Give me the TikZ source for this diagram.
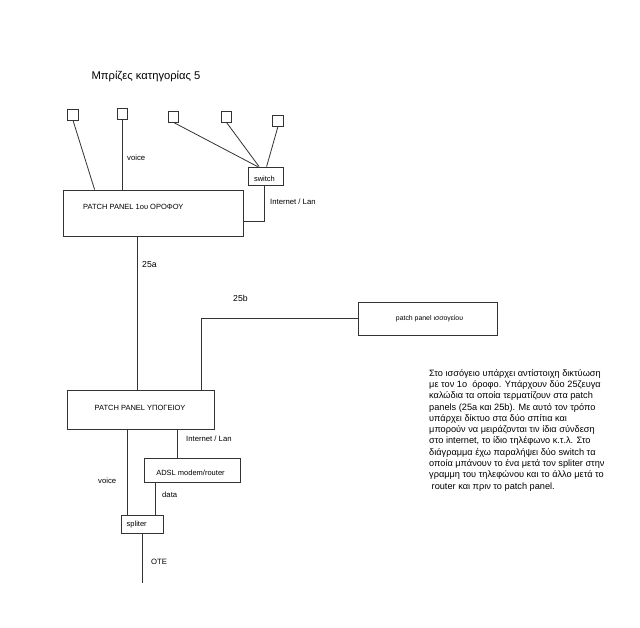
\documentclass[tikz,border=0pt]{standalone}
\usepackage{fontspec}
\setmainfont{Liberation Sans}
\usetikzlibrary{calc}
\begin{document}
\begin{tikzpicture}[x=1pt,y=-1pt,
  ln/.style={draw=black!80,line width=0.8pt},
  sq/.style={draw=black!80,line width=0.8pt,minimum width=10.5pt,minimum height=11pt,inner sep=0pt},
  bx/.style={draw=black!80,line width=0.8pt,inner sep=0pt},
  lbl/.style={font=\fontsize{7.7}{9}\selectfont,anchor=west,inner sep=0pt},
  btxt/.style={font=\fontsize{7.5}{9}\selectfont,inner sep=0pt}]
\useasboundingbox[fill=white] (0,0) rectangle (640,627);
% title
\node[font=\fontsize{11.2}{13}\selectfont,inner sep=0pt] (title) at (146,76) {Μπρίζες κατηγορίας 5};
% sockets
\node[sq] (s1) at (73,114.5) {};
\node[sq] (s2) at (122.5,113.5) {};
\node[sq] (s3) at (173.5,116.5) {};
\node[sq] (s4) at (226.5,116.5) {};
\node[sq] (s5) at (278,120.5) {};
% boxes
\node[bx,minimum width=180pt,minimum height=46pt] (pp1) at (153,213) {};
\node[btxt,anchor=west] (pp1t) at (83,207) {PATCH PANEL 1ου ΟΡΟΦΟΥ};
\node[bx,minimum width=35pt,minimum height=18pt] (sw) at (265.5,176) {};
\node[btxt] (swt) at (264.5,178.5) {switch};
\node[bx,minimum width=139pt,minimum height=33pt] (pp0) at (427.5,318.5) {};
\node[font=\fontsize{6.9}{8}\selectfont,inner sep=0pt] (pp0t) at (429.5,318.5) {patch panel ισσογείου};
\node[bx,minimum width=147pt,minimum height=39pt] (ppb) at (140.5,409.5) {};
\node[btxt] (ppbt) at (140,407.5) {PATCH PANEL ΥΠΟΓΕΙΟΥ};
\node[bx,minimum width=96pt,minimum height=24pt] (adsl) at (192,470) {};
\node[btxt] (adslt) at (190.5,472.5) {ADSL modem/router};
\node[bx,minimum width=42pt,minimum height=18pt] (spl) at (142,524) {};
\node[btxt,anchor=west] (splt) at (126.5,525) {spliter};
\coordinate (ote) at (142,583);
% connectors
\draw[ln] (s1.south) -- ($(pp1.north west)+(32,0)$);
\draw[ln] (s2.south) -- (s2.south |- pp1.north);
\draw[ln] (s3.south) -- ($(sw.north west)+(10,0)$);
\draw[ln] (s4.south) -- ($(sw.north west)+(11.5,0)$);
\draw[ln] (s5.south) -- ($(sw.north west)+(19,0)$);
\draw[ln] ($(sw.south west)+(17,0)$) |- ($(pp1.north east)+(0,32)$);
\draw[ln] ($(pp1.south west)+(75,0)$) -- ($(ppb.north west)+(71,0)$);
\draw[ln] ($(ppb.north west)+(135,0)$) |- (pp0.west);
\draw[ln] ($(ppb.south west)+(61,0)$) -- ($(spl.north west)+(7,0)$);
\draw[ln] ($(ppb.south west)+(111,0)$) -- ($(adsl.north west)+(34,0)$);
\draw[ln] ($(adsl.south west)+(12,0)$) -- ($(spl.north west)+(35,0)$);
\draw[ln] (spl.south) -- (ote);
% labels
\node[lbl] (lv1) at (127,158) {voice};
\node[lbl] (li1) at (270,202) {Internet / Lan};
\node[lbl,font=\fontsize{8.7}{10}\selectfont] (l25a) at (142,265) {25a};
\node[lbl,font=\fontsize{8.7}{10}\selectfont] (l25b) at (233,298) {25b};
\node[lbl] (li2) at (186,439) {Internet / Lan};
\node[lbl] (lv2) at (98,481) {voice};
\node[lbl] (ld) at (162,495) {data};
\node[lbl] (lo) at (151,562) {OTE};
% paragraph
\node[anchor=north west,align=left,inner sep=0pt,font=\fontsize{9.2}{11.3}\selectfont] (para) at (429,369) {Στο ισσόγειο υπάρχει αντίστοιχη δικτύωση\\
με τον 1ο\ \ όροφο. Υπάρχουν δύο 25ζευγα\\
καλώδια τα οποία τερματίζουν στα patch\\
panels (25a και 25b). Με αυτό τον τρόπο\\
υπάρχει δίκτυο στα δύο σπίτια και\\
μπορούν να μειράζονται τιν ίδια σύνδεση\\
στο internet, το ίδιο τηλέφωνο κ.τ.λ. Στο\\
διάγραμμα έχω παραλήψει δύο switch τα\\
οποία μπάνουν το ένα μετά τον spliter στην\\
γραμμη του τηλεφώνου και το άλλο μετά το\\
\hspace*{2.5pt}router και πριν το patch panel.};
\end{tikzpicture}
\end{document}
